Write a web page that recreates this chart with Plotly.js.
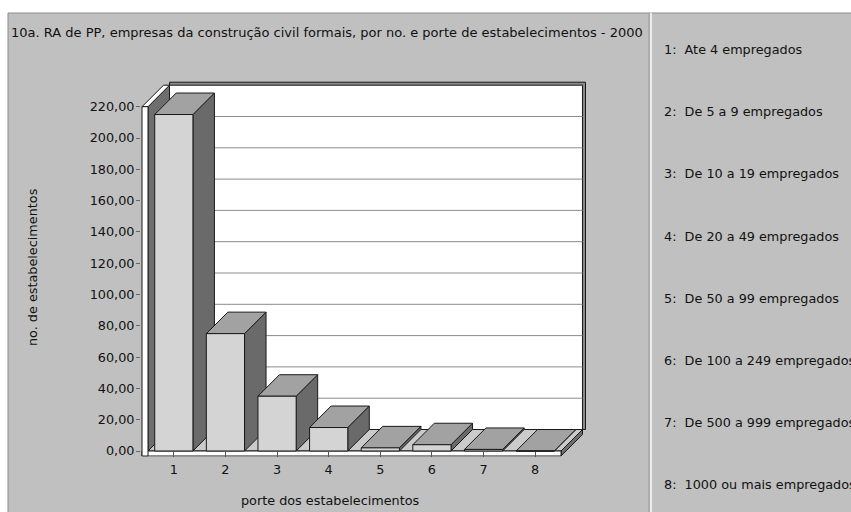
<!DOCTYPE html>
<html>
<head>
<meta charset="utf-8">
<script src="https://cdn.plot.ly/plotly-3.0.1.min.js"></script>
<style>
  html, body { margin: 0; padding: 0; background: #fff; }
  #chart { width: 851px; height: 512px; }
</style>
</head>
<body>
<div id="chart"></div>
<script>
// Establishments in the civil construction sector, by size class (2000)
const categories = [1, 2, 3, 4, 5, 6, 7, 8];
const establishments = [215, 75, 35, 15, 2, 4, 1, 0];
const sizeLabels = [
  "Ate 4 empregados",
  "De 5 a 9 empregados",
  "De 10 a 19 empregados",
  "De 20 a 49 empregados",
  "De 50 a 99 empregados",
  "De 100 a 249 empregados",
  "De 500 a 999 empregados",
  "1000 ou mais empregados"
];
const yTicks = [0, 20, 40, 60, 80, 100, 120, 140, 160, 180, 200, 220];

const chartTitle = "10a. RA de PP, empresas da construção civil formais, por no. e porte de estabelecimentos - 2000";
const xTitle = "porte dos estabelecimentos";
const yTitle = "no. de estabelecimentos";

// ---- page / projection geometry ----
const W = 851, H = 512;
const FONT = "'DejaVu Sans', Verdana, sans-serif";
const FS = 12.8;
const PX_PER_CAT = 51.625;          // width of one category slot
const PX_PER_UNIT = 344.3 / 220;    // vertical pixels per establishment
const X0_PX = 148;                  // x = 0.5 (left edge of the floor)
const Y0_PX = 451;                  // y = 0 (floor level)
const DEPTH_PX = 21.5;              // oblique depth of the box

const xu = px => px / PX_PER_CAT;
const yu = px => px / PX_PER_UNIT;
const DX = xu(DEPTH_PX), DY = yu(DEPTH_PX);
const WALL_T = xu(6);               // thickness of the left wall edge
const FLOOR_T = yu(5);              // thickness of the floor slab
const EDGE_T = 3;                   // back wall rim thickness (px)
const BAR_W = 0.74;
const Y_MAX = 220;

const X_LO = 0.5 - xu(7), X_HI = 8.5 + xu(28);
const Y_LO = -yu(5.5), Y_HI = Y_MAX + yu(27);
const xToPx = x => X0_PX + (x - 0.5) * PX_PER_CAT;
const yToPx = y => Y0_PX - y * PX_PER_UNIT;

const INK = "#1a1a1a";
const C_FRONT = "#d4d4d4", C_TOP = "#a2a2a2", C_SIDE = "#6a6a6a";
const C_PANEL = "#c0c0c0";

function poly(pts, fill, line, width) {
  return {
    type: "path", xref: "x", yref: "y", layer: "below",
    path: "M " + pts.map(p => p[0] + "," + p[1]).join(" L ") + " Z",
    fillcolor: fill,
    line: { color: line || INK, width: width === undefined ? 1 : width }
  };
}
function seg(x0, y0, x1, y1, color) {
  return { type: "line", xref: "x", yref: "y", layer: "below",
           x0, y0, x1, y1, line: { color, width: 1 } };
}

const shapes = [];

// window panels
shapes.push({ type: "rect", xref: "paper", yref: "paper", layer: "below",
  x0: 8 / W, x1: 1.01, y0: -0.01, y1: 1 - 13 / H,
  fillcolor: C_PANEL, line: { color: "#8c8c8c", width: 1 } });
shapes.push({ type: "line", xref: "paper", yref: "paper", layer: "below",
  x0: 649 / W, x1: 649 / W, y0: 0, y1: 1 - 13 / H, line: { color: "#9a9a9a", width: 1 } });
shapes.push({ type: "line", xref: "paper", yref: "paper", layer: "below",
  x0: 651 / W, x1: 651 / W, y0: 0, y1: 1 - 13 / H, line: { color: "#ececec", width: 2 } });

// back wall with its rim
const bx0 = 0.5 + DX, bx1 = 8.5 + DX;
shapes.push(poly([[bx0, DY], [bx1 + xu(EDGE_T), DY], [bx1 + xu(EDGE_T), Y_MAX + DY + yu(EDGE_T)], [bx0, Y_MAX + DY + yu(EDGE_T)]], "#8a8a8a"));
shapes.push(poly([[bx0, DY], [bx1, DY], [bx1, Y_MAX + DY], [bx0, Y_MAX + DY]], "#ffffff"));
yTicks.filter(v => v > 0 && v < Y_MAX).forEach(v => {
  shapes.push(seg(bx0, v + DY, bx1, v + DY, "#8c8c8c"));
});

// left wall: inner face and top edge
shapes.push(poly([[0.5, 0], [0.5, Y_MAX], [0.5 + DX, Y_MAX + DY], [0.5 + DX, DY]], "#6e6e6e"));
shapes.push(poly([[0.5 - WALL_T, Y_MAX], [0.5, Y_MAX], [0.5 + DX, Y_MAX + DY], [0.5 + DX - WALL_T, Y_MAX + DY]], "#ffffff"));

// floor: top, right side, front edge
shapes.push(poly([[0.5, 0], [8.5, 0], [8.5 + DX, DY], [0.5 + DX, DY]], "#cbcbcb"));
shapes.push(poly([[8.5, 0], [8.5 + DX, DY], [8.5 + DX, DY - FLOOR_T], [8.5, -FLOOR_T]], "#6e6e6e"));
shapes.push(poly([[0.5 - WALL_T, -FLOOR_T], [8.5, -FLOOR_T], [8.5, 0], [0.5 - WALL_T, 0]], "#ffffff"));
shapes.push(poly([[0.5 - WALL_T, -FLOOR_T], [0.5, -FLOOR_T], [0.5, Y_MAX], [0.5 - WALL_T, Y_MAX]], "#ffffff"));

// bar side and top faces (front faces come from the bar trace)
categories.forEach((c, i) => {
  const v = establishments[i];
  const x0 = c - BAR_W / 2, x1 = c + BAR_W / 2;
  shapes.push(poly([[x1, 0], [x1, v], [x1 + DX, v + DY], [x1 + DX, DY]], C_SIDE));
  shapes.push(poly([[x0, v], [x1, v], [x1 + DX, v + DY], [x0 + DX, v + DY]], C_TOP));
});

// size-class captions in the right panel
const annotations = sizeLabels.map((t, i) => ({
  xref: "paper", yref: "paper", x: 662 / W, y: 1 - (49.5 + 62.2 * i) / H,
  xanchor: "left", yanchor: "middle", showarrow: false,
  text: categories[i] + ":\u00a0 " + t,
  font: { family: FONT, size: FS, color: "#111" }
}));
annotations.push({
  xref: "paper", yref: "paper", x: 330 / W, y: 1 - 500 / H,
  xanchor: "center", yanchor: "middle", showarrow: false,
  text: xTitle, font: { family: FONT, size: FS, color: "#111" }
});
annotations.push({
  xref: "paper", yref: "paper", x: 32 / W, y: 1 - 267 / H,
  xanchor: "center", yanchor: "middle", showarrow: false, textangle: -90,
  text: yTitle, font: { family: FONT, size: FS, color: "#111" }
});

const data = [{
  type: "bar",
  x: categories,
  y: establishments,
  width: BAR_W,
  marker: { color: C_FRONT, line: { color: INK, width: 1 } },
  hoverinfo: "skip",
  showlegend: false
}];

const layout = {
  width: W, height: H,
  margin: { l: 0, r: 0, t: 0, b: 0 },
  paper_bgcolor: "#ffffff",
  plot_bgcolor: "rgba(0,0,0,0)",
  separators: ",.",
  showlegend: false,
  title: {
    text: chartTitle,
    x: 11 / W, xanchor: "left",
    y: 1 - 32 / H, yanchor: "middle",
    font: { family: FONT, size: 13, color: "#111" }
  },
  xaxis: {
    domain: [xToPx(X_LO) / W, xToPx(X_HI) / W],
    range: [X_LO, X_HI],
    tickvals: categories,
    ticktext: categories.map(String),
    ticks: "inside", ticklen: 5, tickcolor: "#555", tickwidth: 1,
    ticklabelstandoff: 4,
    showgrid: false, zeroline: false, showline: false,
    tickfont: { family: FONT, size: FS, color: "#111" },
    fixedrange: true
  },
  yaxis: {
    domain: [1 - yToPx(Y_LO) / H, 1 - yToPx(Y_HI) / H],
    range: [Y_LO, Y_HI],
    tickvals: yTicks,
    tickformat: ".2f",
    ticks: "outside", ticklen: 4, tickcolor: "#666", tickwidth: 1,
    ticklabelstandoff: -1,
    showgrid: false, zeroline: false, showline: false,
    tickfont: { family: FONT, size: FS, color: "#111" },
    fixedrange: true
  },
  shapes: shapes,
  annotations: annotations
};

Plotly.newPlot("chart", data, layout, { staticPlot: true, displayModeBar: false });
</script>
</body>
</html>
